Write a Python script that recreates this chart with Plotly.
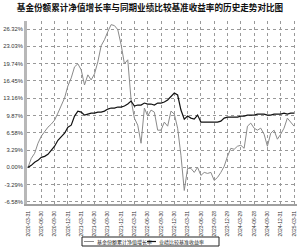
import plotly.graph_objects as go

# ---- data ----
tick_labels = [
    "2020-03-31", "2020-06-30", "2020-09-30", "2020-12-31",
    "2021-03-31", "2021-06-30", "2021-09-30", "2021-12-31",
    "2022-03-31", "2022-06-30", "2022-09-30", "2022-12-30",
    "2023-03-31", "2023-06-30", "2023-09-28", "2023-12-29",
    "2024-03-29", "2024-06-28", "2024-09-30", "2024-12-31",
    "2025-03-31",
]
points_per_label = 4

fund_growth = [
    0.00, 1.72, 2.68, 4.59, 5.93, 6.89, 7.65, 8.23, 8.99, 10.33,
    11.67, 13.20, 15.49, 17.02, 19.13, 19.70, 18.55, 15.68, 17.60, 16.64,
    17.79, 20.08, 23.14, 24.29, 25.82, 27.16, 26.97, 26.21, 23.34, 19.70,
    20.47, 12.82, 9.37, 8.03, 4.59, 11.29, 9.76, 10.90, 10.52, 7.08,
    7.08, 8.61, 7.84, 10.71, 10.14, 7.46, 2.30, -4.40, -0.19, -0.19,
    -0.96, 0.00, -1.53, -0.96, -1.15, -0.96, -2.49, -1.91, -0.96, 0.19,
    2.10, 3.63, 3.44, 4.02, 4.21, 3.63, 7.84, 8.42, 7.46, 7.08,
    7.46, 6.31, 4.02, 6.50, 7.08, 5.36, 6.31, 7.46, 9.37, 8.61,
    7.84,
]
benchmark = [
    0.00, 0.38, 0.96, 1.34, 1.91, 2.10, 2.49, 3.25, 4.02, 5.16,
    5.74, 6.50, 7.65, 8.03, 9.76, 10.71, 10.52, 9.95, 10.14, 10.33,
    10.33, 10.52, 10.52, 10.71, 11.09, 11.29, 11.29, 11.48, 11.48, 11.67,
    12.05, 12.62, 11.67, 11.86, 11.86, 12.24, 12.05, 12.05, 11.86, 12.24,
    12.24, 12.43, 12.82, 13.58, 14.15, 13.77, 10.90, 9.18, 9.76, 9.37,
    9.18, 9.95, 8.61, 8.61, 8.61, 8.61, 8.61, 8.61, 8.80, 9.37,
    9.56, 9.56, 9.56, 9.56, 9.76, 9.76, 9.95, 9.95, 9.95, 10.14,
    10.14, 10.14, 9.95, 9.95, 10.14, 10.14, 10.14, 10.33, 10.14, 10.33,
    10.33,
]
y_ticks = [-6.58, -3.29, 0.00, 3.29, 6.58, 9.87, 13.16, 16.45, 19.74, 23.03, 26.32]

series_names = ["基金份额累计净值增长率", "业绩比较基准收益率"]
title_text = "基金份额累计净值增长率与同期业绩比较基准收益率的历史走势对比图"

# ---- figure ----
x_idx = list(range(len(fund_growth)))
tick_pos = [i * points_per_label for i in range(len(tick_labels))]

CJK = "Noto Sans CJK SC"
fund_color = "#8a8a8a"
bench_color = "#111111"

fig = go.Figure()
fig.add_trace(go.Scatter(x=x_idx, y=fund_growth, mode="lines", name=series_names[0],
                         line=dict(color=fund_color, width=1)))
fig.add_trace(go.Scatter(x=x_idx, y=benchmark, mode="lines", name=series_names[1],
                         line=dict(color=bench_color, width=1.2)))

W, H = 300, 248
ml, mr, mt, mb = 27, 3, 21, 44
pw, ph = W - ml - mr, H - mt - mb

def px(xp):
    return (xp - ml) / pw

def py(yp):
    return (H - mb - yp) / ph

fig.update_layout(
    width=W, height=H,
    margin=dict(l=ml, r=mr, t=mt, b=mb, pad=0),
    paper_bgcolor="white", plot_bgcolor="white",
    showlegend=False,
    title=dict(text="<b>" + title_text + "</b>", x=0.5, xanchor="center",
               y=1 - 8 / H, yanchor="middle", xref="container",
               font=dict(family=CJK, size=8.6, color="#111")),
)

fig.update_xaxes(
    range=[-0.3, 80.9],
    tickmode="array", tickvals=tick_pos, ticktext=tick_labels,
    tickangle=-90, tickfont=dict(family="Liberation Sans", size=5, color="#333"),
    ticklabelstandoff=3,
    showgrid=True, gridcolor="#999999", gridwidth=1, griddash="dot",
    showline=True, linecolor="#a0a0a0", linewidth=2,
    ticks="", zeroline=False,
)
fig.update_yaxes(
    range=[-6.97, 27.85],
    tickmode="array", tickvals=y_ticks, ticktext=[f"{v:.2f}%" for v in y_ticks],
    tickfont=dict(family="Liberation Sans", size=5.8, color="#333"),
    showgrid=True, gridcolor="#999999", gridwidth=1, griddash="dot",
    showline=True, linecolor="#b8b8b8", linewidth=3,
    ticks="", zeroline=False,
)

# ---- manual compact legend ----
lx0, lx1, ly0, ly1 = 82, 219, 237, 246
fig.add_shape(type="rect", xref="paper", yref="paper",
              x0=px(lx0), x1=px(lx1), y0=py(ly1), y1=py(ly0),
              line=dict(color="#222", width=1), fillcolor="white")
ly = (ly0 + ly1) / 2
fig.add_shape(type="line", xref="paper", yref="paper",
              x0=px(84), x1=px(94), y0=py(ly), y1=py(ly),
              line=dict(color=fund_color, width=1))
fig.add_shape(type="line", xref="paper", yref="paper",
              x0=px(147), x1=px(156), y0=py(ly), y1=py(ly),
              line=dict(color=bench_color, width=1.2))
fig.add_annotation(text=series_names[0], xref="paper", yref="paper",
                   x=px(95), y=py(ly), xanchor="left", yanchor="middle",
                   showarrow=False, font=dict(family=CJK, size=5, color="#222"))
fig.add_annotation(text=series_names[1], xref="paper", yref="paper",
                   x=px(157), y=py(ly), xanchor="left", yanchor="middle",
                   showarrow=False, font=dict(family=CJK, size=5, color="#222"))

fig.write_html("out.html")
